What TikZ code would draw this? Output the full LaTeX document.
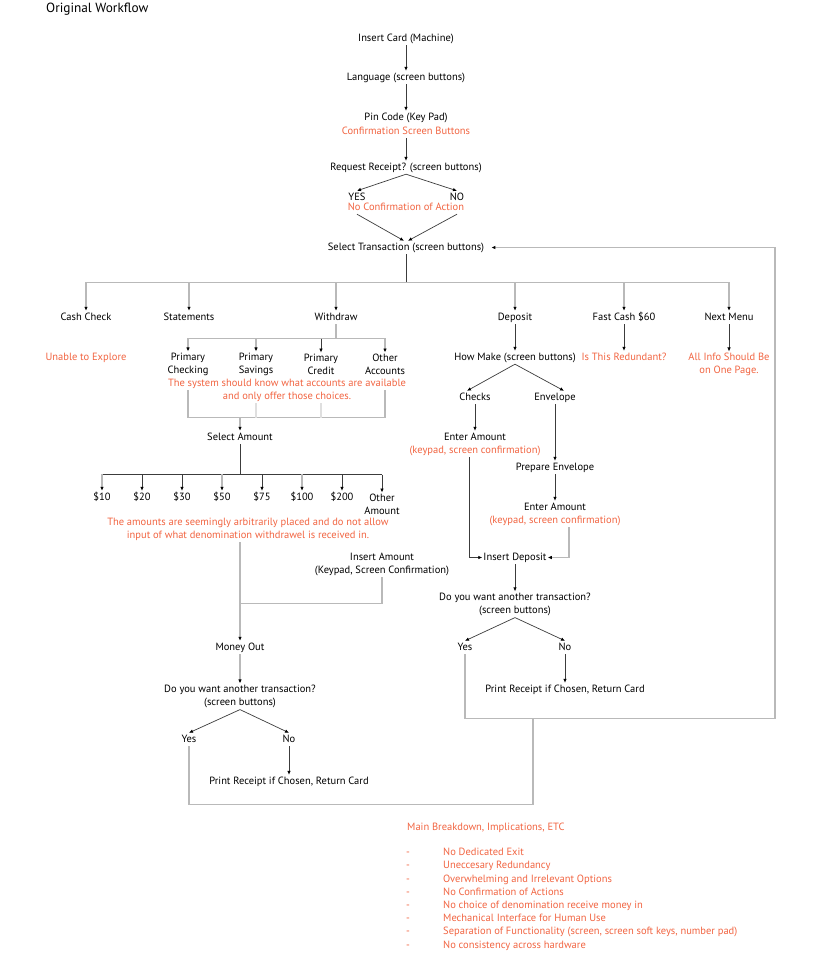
\documentclass[tikz,border=0pt]{standalone}
\usepackage{fontspec}
\setmainfont{PT Sans}
\usepackage{xcolor}
\usetikzlibrary{arrows.meta}
\definecolor{notered}{RGB}{242,101,66}
\definecolor{linegray}{RGB}{185,185,185}
\definecolor{linedark}{RGB}{60,60,60}

\begin{document}
\begin{tikzpicture}[x=1pt, y=-1pt,
        every node/.style={font=\fontsize{10.5}{13}\selectfont, inner xsep=1pt, inner ysep=1.5pt, align=center, yshift=-1.5pt},
        txt/.style={text height=7.5pt, text depth=2.5pt},
        note/.style={text=notered},
        arr/.style={draw=linedark, line width=0.7pt, -{Latex[length=4pt, width=3.5pt, color=black]}},
        garr/.style={draw=linegray, line width=1.4pt, line cap=rect, -{Latex[length=4pt, width=3.5pt, color=black]}},
        gline/.style={draw=linegray, line width=1.4pt, line cap=rect},
        dline/.style={draw=linedark, line width=0.7pt}]
        \fill[white] (0,0) rectangle (814,964);
        \useasboundingbox (0,0) rectangle (814,964);
        \node[anchor=west, font=\fontsize{13.3}{15}\selectfont] (title) at (45,8) {Original Workflow};
        \node[txt] (card) at (406,37) {Insert Card (Machine)};
        \node[txt] (lang) at (406,76) {Language (screen buttons)};
        \node[txt] (pin) at (406,116) {Pin Code (Key Pad)};
        \node[txt, note] (pinnote) at (406,130) {Confirmation Screen Buttons};
        \node[txt] (receipt) at (406,166) {Request Receipt? (screen buttons)};
        \node[txt] (ryes) at (357,196) {YES};
        \node[txt] (rno) at (457,196) {NO};
        \node[txt, note] (rnote) at (406,206) {No Confirmation of Action};
        \node[txt] (select) at (406,246) {Select Transaction (screen buttons)};
        \draw[arr] (card) -- (lang);
        \draw[arr] (lang) -- (pin);
        \draw[arr] (pinnote) -- (receipt);
        \draw[arr] (receipt.south) -- (ryes.north);
        \draw[arr] (receipt.south) -- (rno.north);
        \draw[arr] (ryes |- rnote.south) -- ([xshift=-2pt]select.north);
        \draw[arr] (rno |- rnote.south) -- ([xshift=2pt]select.north);
        \coordinate (tbus) at (406,281);
        \node[txt] (cash) at (86,316) {Cash Check};
        \node[txt] (stmt) at (189,316) {Statements};
        \node[txt] (wdraw) at (336,316) {Withdraw};
        \node[txt] (dep) at (515,316) {Deposit};
        \node[txt] (fast) at (624,316) {Fast Cash \$60};
        \node[txt] (nextm) at (729,316) {Next Menu};
        \draw[dline] (select) -- (tbus);
        \draw[gline] (cash |- tbus) -- (nextm |- tbus);
        \foreach \n in {cash,stmt,wdraw,dep,fast,nextm}
        \draw[garr] (\n |- tbus) -- (\n.north);
        \node[txt, note] (unable) at (86,356) {Unable to Explore};
        \node[txt, note] (redund) at (624,356) {Is This Redundant?};
        \node[note] (onepage) at (729,363) {All Info Should Be\\on One Page.};
        \draw[arr] (fast) -- (redund);
        \draw[arr] (nextm) -- (onepage);
        \coordinate (wbus) at (336,337);
        \node (pchk) at (188,363) {Primary\\Checking};
        \node (psav) at (256,363) {Primary\\Savings};
        \node (pcred) at (321,363) {Primary\\Credit};
        \node (oacc) at (385,363) {Other\\Accounts};
        \node[note] (accnote) at (287,389) {The system should know what accounts are available\\and only offer those choices.};
        \draw[gline] (wdraw) -- (wbus);
        \draw[gline] (pchk.north |- wbus) -- (oacc.north |- wbus);
        \foreach \n in {pchk,psav,oacc}
        \draw[garr] (\n.north |- wbus) -- (\n.north);
        \draw[arr] (pcred.north |- wbus) -- (pcred.north);
        \coordinate (wjoin) at (240,416);
        \draw[gline] (pchk |- accnote) -- (pchk |- wjoin) -- (oacc |- wjoin) -- (oacc |- accnote);
        \foreach \n in {psav,pcred}
        \draw[draw=linegray!45, line width=1.4pt] (\n |- accnote.south) -- (\n |- wjoin);
        \node[txt] (amount) at (240,436) {Select Amount};
        \draw[garr] (wjoin) -- (amount.north);
        \coordinate (abus) at (240,473);
        \draw[dline] (amount) -- (abus);
        \foreach \n/\x/\v in {a10/102/10, a20/142/20, a30/182/30, a50/222/50, a75/262/75, a100/302/100, a200/342/200}
        \node[txt] (\n) at (\x,496) {\$\v};
        \node (aother) at (382,503) {Other\\Amount};
        \draw[dline] (a10 |- abus) -- (aother |- abus);
        \foreach \n/\s in {a10/garr, a20/arr, a30/arr, a50/garr, a75/arr, a100/garr, a200/arr, aother/arr}
        \draw[\s] (\n |- abus) -- (\n.north);
        \node[note] (amtnote) at (248,528) {The amounts are seemingly arbitrarily placed and do not allow\\input of what denomination withdrawel is received in.};
        \node (insamt) at (382,563) {Insert Amount\\(Keypad, Screen Confirmation)};
        \node[txt] (money) at (240,646) {Money Out};
        \coordinate (mjoin) at (240,602);
        \draw[garr] (amtnote.south -| mjoin) -- (money.north);
        \draw[gline] (insamt.south) |- (mjoin);
        \node (another) at (240,695) {Do you want another transaction?\\(screen buttons)};
        \draw[garr] (money) -- (another);
        \node[txt] (wyes) at (189,738) {Yes};
        \node[txt] (wno) at (289,738) {No};
        \draw[arr] (another.south) -- (wyes.north);
        \draw[arr] (another.south) -- (wno.north);
        \node[txt] (wprint) at (289,780) {Print Receipt if Chosen, Return Card};
        \draw[arr] (wno) -- (wprint);
        \node[txt] (howmake) at (515,356) {How Make (screen buttons)};
        \draw[arr] (dep) -- (howmake);
        \node[txt] (checks) at (475,396) {Checks};
        \node[txt] (envel) at (555,396) {Envelope};
        \draw[arr] (howmake.south) -- ([xshift=-8pt]checks.north);
        \draw[arr] (howmake.south) -- ([xshift=9pt]envel.north);
        \node[txt] (centr) at (475,436) {Enter Amount};
        \node[txt, note] (centrnote) at (475,449) {(keypad, screen confirmation)};
        \draw[arr] (checks) -- (centr);
        \node[txt] (prep) at (555,466) {Prepare Envelope};
        \draw[arr] (envel) -- (prep);
        \node[txt] (eentr) at (555,506) {Enter Amount};
        \node[txt, note] (eentrnote) at (555,519) {(keypad, screen confirmation)};
        \draw[arr] (prep) -- (eentr);
        \node[txt] (insdep) at (515,556) {Insert Deposit};
        \draw[arr] ([xshift=-6pt]centrnote.south) |- (insdep.west);
        \draw[garr] ([xshift=14pt]eentrnote.south) |- (insdep.east);
        \node (dano) at (515,603) {Do you want another transaction?\\(screen buttons)};
        \draw[arr] (insdep) -- (dano);
        \node[txt] (dyes) at (465,646) {Yes};
        \node[txt] (dno) at (565,646) {No};
        \draw[arr] (dano.south) -- (dyes.north);
        \draw[arr] (dano.south) -- (dno.north);
        \node[txt] (dprint) at (565,688) {Print Receipt if Chosen, Return Card};
        \draw[arr] (dno) -- (dprint);
        \coordinate (ljoin) at (533,717);
        \coordinate (lcorner) at (775,717);
        \coordinate (lbottom) at (533,803);
        \draw[garr] (dyes.south) |- (lcorner) |- ([xshift=6pt]select.east);
        \draw[gline] (wyes.south) |- (lbottom) -- (ljoin);
        \node[note, anchor=west] (brkhead) at (406,826) {Main Breakdown, Implications, ETC};
        \foreach \t [count=\i] in {{No Dedicated Exit}, {Uneccesary Redundancy}, {Overwhelming and Irrelevant Options}, {No Confirmation of Actions}, {No choice of denomination receive money in}, {Mechanical Interface for Human Use}, {Separation of Functionality (screen, screen soft keys, number pad)}, {No consistency across hardware}}
        {
        \node[txt, note] (dash\i) at (408,838.5+13.2*\i) {-};
        \node[txt, note, anchor=west] (brk\i) at (442,838.5+13.2*\i) {\t};
        }
\end{tikzpicture}
\end{document}
